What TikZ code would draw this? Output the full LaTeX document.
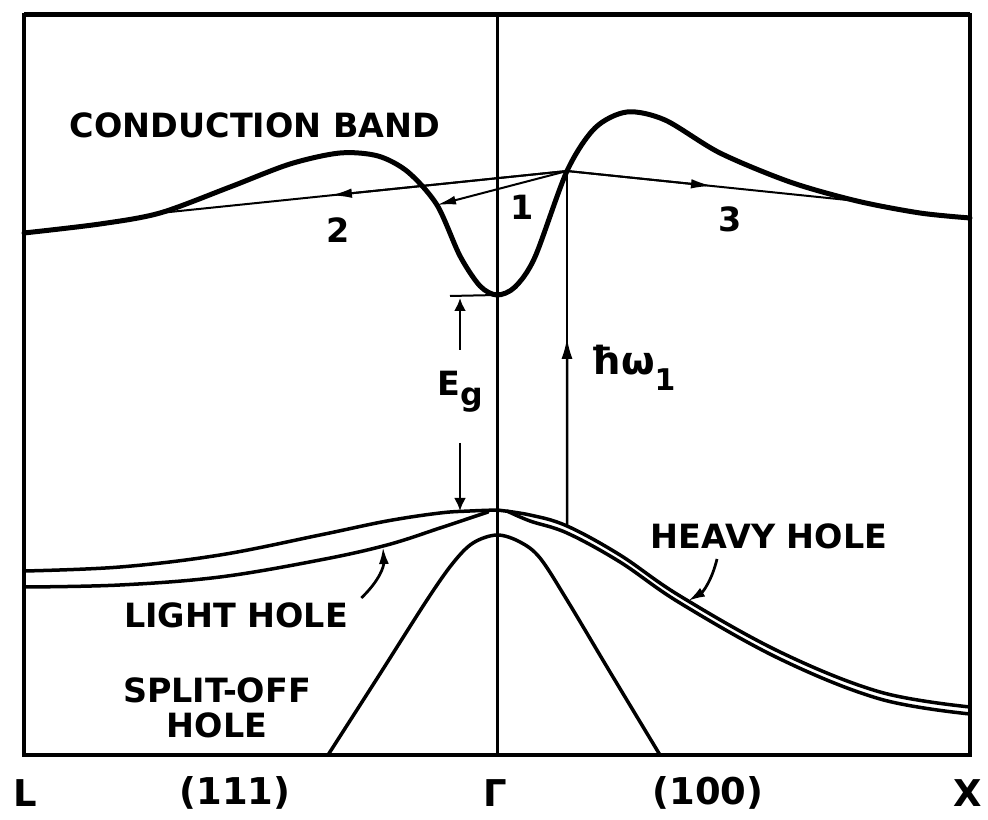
\documentclass[tikz,border=0pt]{standalone}
\usepackage{fontspec}
\setmainfont{DejaVu Sans}
\usetikzlibrary{arrows.meta,calc}

\begin{document}
\begin{tikzpicture}[x=0.2mm, y=-0.2mm,
  frame/.style={line width=0.8mm},
  band/.style={line width=1mm, line join=round, line cap=round},
  hole/.style={line width=0.7mm, line cap=round},
  trans/.style={line width=0.4mm},
  pointer/.style={line width=0.55mm, -{Latex[length=3.4mm,width=2mm]}},
  lbl/.style={font=\fontsize{19}{22}\selectfont\bfseries, align=center, inner sep=0pt},
  axis/.style={font=\fontsize{21}{24}\selectfont\bfseries, inner sep=0pt}
]
  \useasboundingbox (0,0) rectangle (988,820);

  % frame and zone centre
  \draw[frame] (24,15) rectangle (970,755);
  \draw[line width=1mm] (24,15) -- (970,15);
  \draw[line width=0.6mm] (497,15) -- (497,755);

  % key points
  \coordinate (P)     at (567,171);
  \coordinate (cbmin) at (497,295);
  \coordinate (vbtop) at (497,510);
  \coordinate (e1)    at (437,205);
  \coordinate (e2)    at (160,213);
  \coordinate (e3)    at (857,201);
  \coordinate (hhtop) at (567,526);
  \coordinate (egtop) at (460,298);
  \coordinate (egbot) at (460,511);

  % conduction band
  \draw[band] plot[smooth, tension=0.5] coordinates {
    (24,233) (100,224) (160,213) (230,187) (290,164) (340,153) (378,156)
    (408,172) (437,205) (460,256) (480,286) (497,295) (515,287) (535,257)
    (567,171) (595,128) (627,112) (665,120) (720,153) (790,182) (857,201)
    (920,213) (970,218)};

  % light hole
  \draw[hole] plot[smooth, tension=0.6] coordinates {
    (24,571) (120,567) (220,555) (320,535) (387,521) (440,513) (470,511) (497,510)};
  \draw[hole] plot[smooth, tension=0.6] coordinates {
    (24,587) (120,585) (220,577) (320,560) (387,545) (440,528) (470,518) (488,512)};

  % heavy hole
  \draw[hole] plot[smooth, tension=0.6] coordinates {
    (497,510) (530,515) (567,526) (620,555) (680,596) (780,652) (880,692) (970,707)};
  \draw[hole] plot[smooth, tension=0.6] coordinates {
    (507,511) (530,521) (567,533) (620,562) (680,603) (780,659) (880,699) (970,714)};

  % split-off hole
  \draw[hole] plot[smooth, tension=0.55] coordinates {
    (328,755) (378,677) (427,600) (453,563) (473,543) (497,535) (520,542)
    (540,558) (567,600) (610,672) (660,755)};

  % transitions
  \draw[trans] (P) -- (e2);
  \draw[trans, -{Latex[length=4.2mm,width=1.9mm]}] (P) -- ($(P)!0.58!(e2)$);
  \draw[trans, -{Latex[length=3.8mm,width=1.8mm]}] (P) -- (e1);
  \draw[trans] (P) -- (e3);
  \draw[trans, -{Latex[length=4.2mm,width=1.9mm]}] (P) -- ($(P)!0.5!(e3)$);

  \node[lbl] (n1) at (522,207) {1};
  \node[lbl] (n2) at (338,230) {2};
  \node[lbl] (n3) at (730,219) {3};

  % photon
  \draw[line width=0.5mm] (hhtop) -- (P);
  \draw[line width=0.5mm, -{Latex[length=4.2mm,width=2.2mm]}] (hhtop) -- ($(hhtop)!0.53!(P)$);
  \node[lbl, font=\fontsize{22}{24}\selectfont\bfseries] (hw) at (633,368)
    {ħω\raisebox{-0.75ex}{\fontsize{17}{17}\selectfont 1}};

  % gap
  \draw[trans] (450,296) -- (cbmin);
  \node[lbl] (eg) at (460,392) {E\raisebox{-0.55ex}{\fontsize{18}{18}\selectfont g}};
  \draw[line width=0.5mm, -{Latex[length=2.6mm,width=2.4mm]}] (460,350) -- (egtop);
  \draw[line width=0.5mm, -{Latex[length=2.6mm,width=2.4mm]}] (460,443) -- (egbot);

  % band names
  \node[lbl] (cb)  at (255,125) {CONDUCTION BAND};
  \node[lbl] (lh)  at (236,615) {LIGHT HOLE};
  \node[lbl] (hhl) at (769,536) {HEAVY HOLE};
  \node[lbl] (so)  at (217,708) {SPLIT-OFF\\[-2pt]HOLE};

  \draw[pointer] ($(lh.north east)+(13,-4)$) .. controls (380,580) and (384,566) .. (383,547);
  \draw[pointer] ($(hhl.south)+(-52,10)$) .. controls (712,580) and (703,592) .. (688,601);

  % symmetry points
  \node[axis] (L)    at (25,793)  {L};
  \node[axis] (d111) at (235,793) {(111)};
  \node[axis] (G)    at (495,793) {Γ};
  \node[axis] (d100) at (708,793) {(100)};
  \node[axis] (X)    at (968,793) {X};
\end{tikzpicture}
\end{document}
